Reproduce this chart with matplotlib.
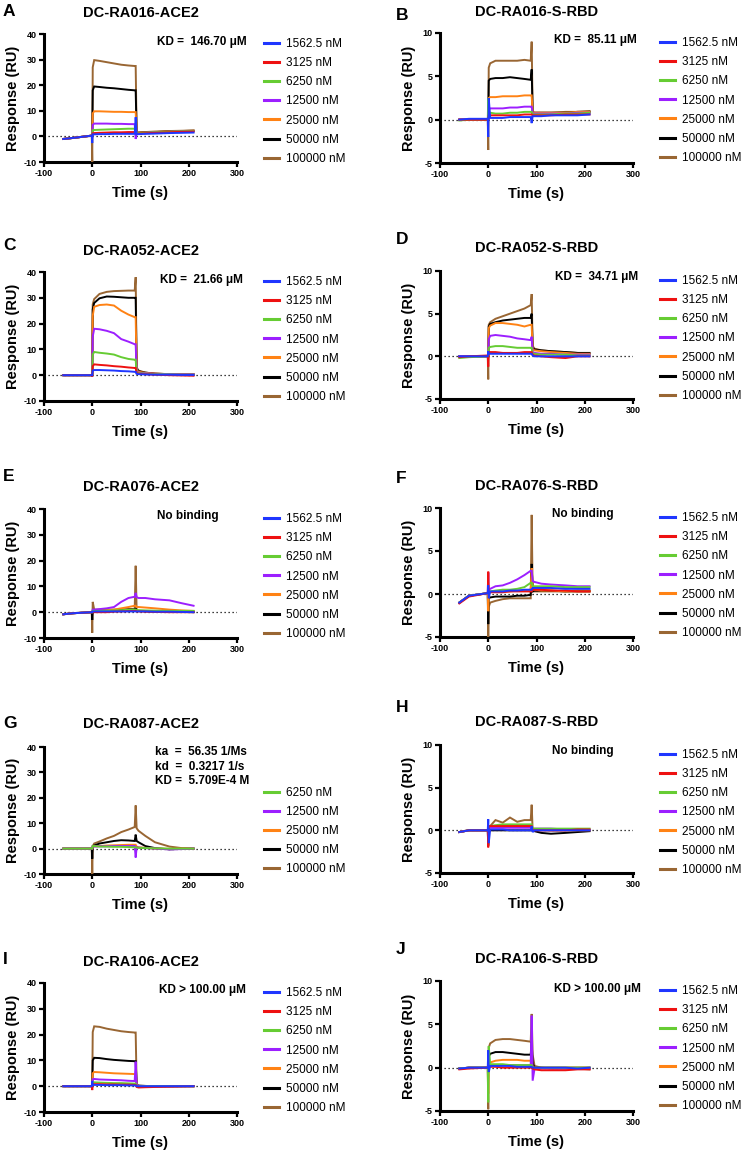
import matplotlib
matplotlib.use("Agg")
import matplotlib.pyplot as plt
from matplotlib.lines import Line2D

plt.rcParams['font.family'] = ['Liberation Sans', 'DejaVu Sans']
plt.rcParams['axes.unicode_minus'] = False

# ---------------- data ----------------
T = [-60, -40, -1, 0, 1, 4, 15, 30, 45, 60, 75, 88, 90, 92, 96, 110, 130, 160, 185, 210]

CONC7 = ['1562.5 nM', '3125 nM', '6250 nM', '12500 nM', '25000 nM', '50000 nM', '100000 nM']
CONC5 = ['6250 nM', '12500 nM', '25000 nM', '50000 nM', '100000 nM']
COL7 = ['#1f36ff', '#ee1111', '#66cc33', '#9c1fff', '#ff8214', '#000000', '#996633']
COL5 = ['#66cc33', '#9c1fff', '#ff8214', '#000000', '#996633']

A_RESP = [
    [-1.0, -0.6, 0.3, -2.6, 0.8, 0.8, 0.9, 0.9, 1.0, 1.0, 1.0, 1.0, 7.5, 0.8, 0.9, 1.0, 1.1, 1.3, 1.4, 1.5],
    [-1.0, -0.6, 0.3, 0.3, 1.2, 1.3, 1.4, 1.5, 1.6, 1.6, 1.7, 1.7, 1.7, 1.0, 1.1, 1.2, 1.4, 1.6, 1.8, 1.9],
    [-1.0, -0.6, 0.3, 0.3, 2.4, 2.5, 2.6, 2.7, 2.8, 2.9, 3.0, 3.0, 3.0, 1.2, 1.3, 1.4, 1.6, 1.8, 2.0, 2.1],
    [-1.0, -0.6, 0.3, 0.3, 4.5, 5.0, 5.0, 5.0, 4.9, 4.9, 4.8, 4.8, -1.0, 1.2, 1.3, 1.4, 1.6, 1.8, 2.0, 2.1],
    [-1.0, -0.6, 0.3, 0.3, 9.0, 9.8, 9.8, 9.7, 9.6, 9.6, 9.5, 9.5, 9.5, 1.3, 1.4, 1.5, 1.7, 1.9, 2.1, 2.2],
    [-1.0, -0.6, 0.3, 0.3, 18.0, 19.5, 19.3, 19.0, 18.8, 18.5, 18.2, 18.0, 18.0, 1.3, 1.4, 1.5, 1.7, 1.9, 2.1, 2.2],
    [-1.0, -0.6, 0.3, -10.0, 27.0, 29.8, 29.5, 29.0, 28.5, 28.0, 27.7, 27.5, 27.5, 1.5, 1.6, 1.7, 1.9, 2.1, 2.2, 2.3],
]
B_RESP = [
    [0.0, 0.1, 0.1, -2.0, 2.5, 0.2, 0.2, 0.2, 0.3, 0.3, 0.3, 0.3, -0.4, 0.4, 0.4, 0.4, 0.5, 0.5, 0.5, 0.6],
    [0.0, 0.0, 0.0, 0.0, 0.5, 0.5, 0.5, 0.5, 0.5, 0.5, 0.6, 0.6, 0.6, 0.5, 0.5, 0.5, 0.5, 0.6, 0.6, 0.6],
    [-0.1, 0.0, 0.0, 2.5, 0.8, 0.8, 0.7, 0.7, 0.8, 0.8, 0.9, 0.9, 0.9, 0.6, 0.6, 0.6, 0.6, 0.7, 0.7, 0.8],
    [0.0, 0.0, 0.0, 0.0, 1.2, 1.3, 1.3, 1.3, 1.4, 1.4, 1.5, 1.5, 1.5, 0.7, 0.7, 0.7, 0.7, 0.7, 0.8, 0.8],
    [0.0, 0.0, 0.0, 0.0, 2.5, 2.6, 2.6, 2.7, 2.7, 2.7, 2.8, 2.8, 2.8, 0.8, 0.8, 0.8, 0.8, 0.8, 0.9, 0.9],
    [0.0, 0.0, 0.0, 0.0, 4.5, 4.7, 4.8, 4.8, 4.9, 4.8, 4.7, 4.6, 5.8, 0.8, 0.8, 0.8, 0.8, 0.8, 0.9, 0.9],
    [0.0, 0.0, 0.0, -3.5, 6.0, 6.5, 6.8, 6.8, 6.8, 6.8, 6.9, 6.8, 9.0, 0.9, 0.8, 0.8, 0.8, 0.9, 0.9, 1.0],
]
C_RESP = [
    [0, 0, 0, 0, 1.8, 2.0, 2.0, 1.9, 1.8, 1.6, 1.5, 1.3, 1.3, 0.5, 0.4, 0.3, 0.2, 0.2, 0.1, 0.1],
    [0, 0, 0, -0.5, 3.5, 4.2, 4.0, 3.8, 3.5, 3.3, 3.0, 2.8, 2.8, 0.8, 0.6, 0.4, 0.2, 0.0, -0.1, -0.2],
    [0, 0, 0, 0, 8.0, 9.0, 8.7, 8.4, 8.0, 7.0, 6.3, 6.0, 6.0, 1.0, 0.8, 0.6, 0.4, 0.3, 0.2, 0.2],
    [0, 0, 0, 0, 15.0, 18.0, 17.8, 17.2, 16.3, 14.0, 13.0, 12.0, 12.0, 1.5, 1.0, 0.7, 0.5, 0.4, 0.3, 0.3],
    [0, 0, 0, 0, 23.0, 26.5, 27.2, 27.4, 27.0, 25.0, 23.5, 22.5, 22.5, 2.0, 1.3, 0.9, 0.6, 0.4, 0.3, 0.3],
    [0, 0, 0, 0, 25.5, 28.0, 29.8, 30.5, 30.4, 30.2, 30.0, 30.0, 30.0, 2.5, 1.5, 1.0, 0.6, 0.4, 0.3, 0.3],
    [0, 0, 0, 0, 27.5, 29.5, 31.5, 32.3, 32.6, 32.7, 32.8, 32.8, 38.0, 3.0, 1.8, 1.0, 0.6, 0.4, 0.3, 0.3],
]
D_RESP = [
    [0, 0, 0, 0.6, 0.3, 0.3, 0.3, 0.3, 0.3, 0.3, 0.3, 0.3, 0.3, 0.1, 0.0, 0.0, 0.0, 0.0, 0.0, 0.0],
    [-0.1, 0.0, 0.1, -1.2, 0.5, 0.5, 0.5, 0.4, 0.4, 0.4, 0.5, 0.5, 0.5, 0.2, 0.1, 0.0, -0.1, -0.2, 0.0, 0.0],
    [-0.2, -0.1, 0, 0, 1.0, 1.1, 1.2, 1.2, 1.1, 1.0, 1.0, 1.0, 1.0, 0.3, 0.3, 0.2, 0.2, 0.2, 0.1, 0.1],
    [0, 0, 0, 0, 2.0, 2.4, 2.5, 2.4, 2.3, 2.1, 2.0, 1.9, 2.3, 0.5, 0.4, 0.3, 0.3, 0.2, 0.2, 0.2],
    [0, 0, 0, 0, 3.3, 3.6, 3.9, 3.9, 3.8, 3.7, 3.5, 3.7, 3.7, 0.8, 0.7, 0.6, 0.5, 0.4, 0.3, 0.3],
    [0, 0, 0, 0, 3.5, 3.8, 4.0, 4.2, 4.3, 4.4, 4.5, 4.5, 5.0, 1.0, 0.8, 0.7, 0.6, 0.5, 0.4, 0.4],
    [0, 0, 0, -2.7, 3.7, 4.0, 4.4, 4.7, 5.0, 5.3, 5.6, 6.0, 7.3, 1.2, 0.9, 0.7, 0.6, 0.5, 0.4, 0.3],
]
E_RESP = [
    [-0.8, -0.4, 0.0, 0.0, 0.3, 0.3, 0.3, 0.3, 0.3, 0.3, 0.3, 0.3, 0.3, 0.3, 0.3, 0.3, 0.2, 0.2, 0.1, 0.0],
    [-0.8, -0.4, 0.0, 0.0, 0.0, 0.0, 0.0, 0.0, 0.2, 0.3, 0.4, 0.5, 0.5, 0.3, 0.3, 0.2, 0.1, 0.0, 0.0, 0.0],
    [-0.8, -0.4, 0.0, 0.0, 0.5, 0.5, 0.5, 0.6, 0.7, 0.8, 0.9, 1.0, 1.0, 0.8, 0.8, 0.7, 0.6, 0.5, 0.5, 0.5],
    [-0.8, -0.4, 0.0, 0.0, 1.0, 1.0, 1.2, 1.5, 2.0, 4.0, 5.5, 6.0, 7.5, 5.8, 5.5, 5.5, 5.0, 4.6, 3.5, 2.5],
    [-0.8, -0.4, 0.0, 0.0, 0.5, 0.5, 0.6, 0.8, 1.0, 1.5, 2.0, 2.5, 2.5, 2.0, 2.0, 1.8, 1.5, 1.0, 0.7, 0.5],
    [-0.8, -0.4, 0.0, -3.0, 0.5, 0.5, 0.6, 0.7, 0.8, 0.9, 1.0, 1.0, 1.5, 0.5, 0.5, 0.4, 0.3, 0.3, 0.2, 0.2],
    [-0.8, -0.4, 0.0, -8.0, 4.0, 1.0, 1.0, 1.0, 1.0, 1.0, 1.2, 1.3, 18.0, 0.5, 0.5, 0.4, 0.3, 0.2, 0.1, 0.0],
]
F_RESP = [
    [-1.0, -0.2, 0.1, 1.0, -0.5, 0.3, 0.3, 0.3, 0.4, 0.4, 0.5, 0.5, 0.5, 0.7, 0.7, 0.7, 0.7, 0.6, 0.6, 0.6],
    [-1.1, -0.3, 0.1, 2.6, 0.2, 0.2, 0.2, 0.2, 0.3, 0.3, 0.3, 0.3, 0.3, 0.5, 0.5, 0.5, 0.4, 0.4, 0.3, 0.3],
    [-1.0, -0.2, 0.1, 0.1, 0.3, 0.3, 0.4, 0.5, 0.5, 0.6, 0.8, 1.3, 1.3, 0.9, 0.9, 0.9, 0.9, 0.8, 0.8, 0.8],
    [-1.0, -0.2, 0.1, 2.5, 0.5, 0.6, 0.9, 1.0, 1.3, 1.7, 2.2, 2.7, 2.7, 1.5, 1.4, 1.2, 1.1, 1.0, 0.9, 0.9],
    [-1.0, -0.2, 0.1, -2.0, 0.2, 0.2, 0.3, 0.3, 0.3, 0.4, 0.4, 0.5, 3.0, 0.5, 0.5, 0.4, 0.4, 0.3, 0.3, 0.3],
    [-1.0, -0.2, 0.1, -3.5, -0.5, -0.4, -0.3, -0.3, -0.3, -0.2, -0.2, -0.1, 3.5, 0.3, 0.4, 0.4, 0.4, 0.3, 0.3, 0.3],
    [-1.0, -0.2, 0.1, -5.0, -1.5, -1.0, -0.8, -0.6, -0.5, -0.5, -0.5, -0.5, 9.2, 0.3, 0.3, 0.3, 0.3, 0.3, 0.4, 0.4],
]
G_RESP = [
    [0, 0, 0, 0, 1.0, 1.0, 0.8, 0.8, 0.7, 0.7, 0.6, 0.5, 0.5, 0.4, 0.3, 0.2, 0.1, 0.0, 0.0, 0.0],
    [0, 0, 0, 0, 0.8, 0.8, 0.9, 0.9, 1.0, 1.0, 1.0, 1.0, -3.5, 0.5, 0.4, 0.2, 0.0, -0.3, -0.2, 0.0],
    [0, 0, 0, 0, 0.8, 0.9, 1.0, 1.2, 1.3, 1.4, 1.5, 1.5, 1.5, 0.8, 0.5, 0.3, 0.0, -0.1, 0.0, 0.0],
    [0, 0, 0, -4.0, 1.0, 1.2, 2.0, 2.5, 3.0, 3.3, 3.2, 3.0, 5.5, 3.0, 2.5, 1.0, 0.2, -0.3, -0.1, 0.0],
    [0, 0, 0, -10.0, 1.0, 2.0, 2.8, 4.0, 5.0, 6.5, 7.5, 8.5, 17.0, 8.0, 7.0, 5.0, 2.5, 0.8, 0.2, 0.0],
]
H_RESP = [
    [-0.2, 0.0, 0.0, 1.3, -1.5, 0.1, 0.1, 0.1, 0.0, 0.0, 0.0, 0.0, 0.5, -0.2, 0.0, 0.0, 0.0, 0.0, 0.0, 0.0],
    [-0.2, 0.0, 0.0, -2.0, 0.5, 0.5, 0.5, 0.5, 0.5, 0.5, 0.5, 0.5, 0.5, 0.0, 0.0, 0.0, 0.0, 0.0, 0.1, 0.1],
    [-0.2, 0.0, 0.0, 0.0, 0.4, 0.5, 0.6, 0.7, 0.7, 0.7, 0.7, 0.7, 0.7, 0.2, 0.2, 0.2, 0.2, 0.2, 0.2, 0.2],
    [-0.2, 0.0, 0.0, 0.0, 0.3, 0.3, 0.3, 0.3, 0.3, 0.3, 0.3, 0.3, 0.3, 0.2, 0.2, 0.2, 0.2, 0.1, 0.1, 0.1],
    [-0.2, 0.0, 0.0, 0.0, 0.3, 0.4, 0.4, 0.5, 0.5, 0.5, 0.5, 0.5, 0.5, 0.1, 0.1, 0.1, 0.0, 0.0, 0.0, 0.0],
    [-0.2, 0.0, 0.0, -1.8, 0.0, 0.0, 0.0, 0.0, 0.0, 0.0, 0.0, 0.0, 0.0, 0.0, -0.1, -0.3, -0.4, -0.3, -0.2, -0.1],
    [-0.2, 0.0, 0.0, 0.0, 0.3, 0.5, 1.2, 0.9, 1.5, 1.0, 1.2, 1.2, 3.0, 0.0, 0.0, 0.0, 0.0, 0.0, 0.0, 0.0],
]
I_RESP = [
    [0, 0, 0, 2.0, 0.5, 0.5, 0.5, 0.4, 0.4, 0.4, 0.3, 0.3, 0.3, 0.0, 0.0, 0.0, 0.0, 0.0, 0.0, 0.0],
    [0, 0, 0, -1.5, 0.8, 0.8, 0.8, 0.7, 0.7, 0.6, 0.6, 0.5, 0.5, -0.3, -0.5, -0.4, -0.3, -0.2, -0.1, 0.0],
    [0, 0, 0, 0, 1.5, 1.5, 1.4, 1.3, 1.2, 1.2, 1.1, 1.0, 1.0, 0.0, 0.0, 0.0, 0.0, 0.0, 0.0, 0.0],
    [0, 0, 0, 0, 2.7, 2.8, 2.6, 2.5, 2.4, 2.3, 2.1, 2.0, 9.5, 0.2, 0.1, 0.0, 0.0, 0.0, 0.0, 0.0],
    [0, 0, 0, 0, 5.0, 5.5, 5.4, 5.2, 5.0, 4.9, 4.8, 4.7, 4.7, 0.3, 0.1, 0.0, 0.0, 0.0, 0.0, 0.0],
    [0, 0, 0, 0, 10.0, 11.0, 10.9, 10.5, 10.2, 10.0, 9.8, 9.7, 9.7, 0.5, 0.2, 0.1, 0.0, 0.0, 0.0, 0.0],
    [0, 0, 0, 0, 21.0, 23.2, 23.0, 22.3, 21.8, 21.3, 21.0, 20.8, 20.8, 0.5, 0.2, 0.1, 0.0, 0.0, 0.0, 0.0],
]
J_RESP = [
    [-0.1, 0.0, 0.0, 2.0, -0.5, 0.2, 0.2, 0.2, 0.2, 0.1, 0.1, 0.1, 0.1, 0.0, 0.0, 0.0, 0.0, 0.0, -0.1, 0.0],
    [-0.2, -0.1, 0.0, 0.0, 0.1, 0.1, 0.1, 0.0, 0.0, 0.0, 0.0, 0.0, 0.0, -0.1, -0.2, -0.3, -0.3, -0.3, -0.2, -0.2],
    [-0.1, 0.0, 0.0, -4.0, 2.5, 0.4, 0.4, 0.4, 0.3, 0.3, 0.3, 0.3, 0.3, 0.0, 0.0, 0.0, 0.0, 0.0, 0.0, 0.0],
    [-0.1, 0.0, 0.0, 0.0, 0.3, 0.3, 0.3, 0.3, 0.3, 0.3, 0.3, 0.3, 6.0, -1.5, -0.1, -0.1, -0.1, -0.1, -0.1, -0.1],
    [-0.1, 0.0, 0.0, -3.0, 0.5, 0.6, 0.8, 0.9, 0.9, 0.9, 0.8, 0.8, 0.8, 0.0, 0.0, 0.0, 0.0, 0.0, 0.0, 0.0],
    [-0.1, 0.0, 0.0, 0.0, 1.3, 1.6, 1.8, 1.8, 1.7, 1.6, 1.5, 1.5, 3.0, 0.5, 0.0, 0.0, 0.0, 0.0, 0.0, 0.0],
    [-0.1, 0.0, 0.0, -4.8, 2.3, 2.8, 3.2, 3.3, 3.3, 3.2, 3.1, 3.0, 6.2, 1.5, 0.2, 0.0, -0.1, -0.1, -0.1, -0.2],
]

TITLES = ['DC-RA016-ACE2', 'DC-RA016-S-RBD', 'DC-RA052-ACE2', 'DC-RA052-S-RBD',
          'DC-RA076-ACE2', 'DC-RA076-S-RBD', 'DC-RA087-ACE2', 'DC-RA087-S-RBD',
          'DC-RA106-ACE2', 'DC-RA106-S-RBD']
LETTERS = ['A', 'B', 'C', 'D', 'E', 'F', 'G', 'H', 'I', 'J']
NOTES = ['KD =  146.70 \u03bcM', 'KD =  85.11 \u03bcM', 'KD =  21.66 \u03bcM', 'KD =  34.71 \u03bcM',
         'No binding', 'No binding', None, 'No binding',
         'KD > 100.00 \u03bcM', 'KD > 100.00 \u03bcM']
G_NOTES = ['ka  =  56.35 1/Ms', 'kd  =  0.3217 1/s', 'KD =  5.709E-4 M']
XTICKS = [-100, 0, 100, 200, 300]
YTICKS_ACE2 = [-10, 0, 10, 20, 30, 40]
YTICKS_RBD = [-5, 0, 5, 10]

RESPS = [A_RESP, B_RESP, C_RESP, D_RESP, E_RESP, F_RESP, G_RESP, H_RESP, I_RESP, J_RESP]

# ---------------- layout (pixels) ----------------
W, H = 747, 1154
fig = plt.figure(figsize=(W / 100, H / 100), dpi=100)

AX_TOP = [34, 33, 272, 271, 509, 508, 747, 745, 983, 981]
AX_BOT = [162, 163, 401, 399, 638, 637, 874, 873, 1112, 1111]
AX_LEFT = [44, 440]
AX_W = 193
LETTER_Y = [12, 15, 245, 240, 476, 478, 723, 708, 960, 950]
LETTER_X = [3, 396]
TITLE_Y = [13, 12, 251, 248, 487, 486, 724, 722, 962, 959]
NOTE_POS = [(1.05, 0.94, 'right'), (1.02, 0.945, 'right'), (1.03, 0.94, 'right'), (1.026, 0.95, 'right'),
            (0.745, 0.945, 'center'), (0.74, 0.953, 'center'), None, (0.74, 0.953, 'center'),
            (1.047, 0.946, 'right'), (1.04, 0.94, 'right')]

for k in range(10):
    col = k % 2
    x0 = AX_LEFT[col]
    top, bot = AX_TOP[k], AX_BOT[k]
    ax = fig.add_axes([x0 / W, 1 - bot / H, AX_W / W, (bot - top) / H])
    resp = RESPS[k]
    if k == 6:
        labels, colors = CONC5, COL5
    else:
        labels, colors = CONC7, COL7
    n = len(resp)
    ax.axhline(0, color='black', lw=0.9, ls=(0, (1, 2.2)), zorder=1)
    for i in reversed(range(n)):
        ax.plot(T, resp[i], color=colors[i], lw=1.4, zorder=2 + (n - i),
                solid_joinstyle='miter')
    ax.set_xlim(-100, 300)
    if col == 0:
        ax.set_ylim(-10, 40)
        ax.set_yticks(YTICKS_ACE2)
    else:
        ax.set_ylim(-5, 10)
        ax.set_yticks(YTICKS_RBD)
    ax.set_xticks(XTICKS)
    for s in ['top', 'right']:
        ax.spines[s].set_visible(False)
    for s in ['left', 'bottom']:
        ax.spines[s].set_linewidth(2.2)
    ax.tick_params(direction='out', length=3.8, width=1.6, labelsize=6.5, pad=1.5)
    for lab in ax.get_xticklabels() + ax.get_yticklabels():
        lab.set_fontweight('bold')
    ax.set_ylabel('Response (RU)', fontsize=10.5, fontweight='bold', va='center')
    ax.yaxis.set_label_coords(-0.16, 0.5)
    ax.set_xlabel('Time (s)', fontsize=10.5, fontweight='bold', va='center')
    ax.xaxis.set_label_coords(0.5, -31 / (bot - top))

    handles = [Line2D([], [], color=c, lw=2.2) for c in colors]
    if k == 6:
        ax.legend(handles, labels, loc='lower left', bbox_to_anchor=(1.14, -0.01),
                  frameon=False, fontsize=8.5, handlelength=1.25, handletextpad=0.6,
                  labelspacing=0.6, borderpad=0, borderaxespad=0)
    else:
        ax.legend(handles, labels, loc='upper left', bbox_to_anchor=(1.14, 0.967),
                  frameon=False, fontsize=8.5, handlelength=1.25, handletextpad=0.6,
                  labelspacing=0.6, borderpad=0, borderaxespad=0)

    if NOTES[k] is not None:
        nx, ny, ha = NOTE_POS[k]
        ax.text(nx, ny, NOTES[k], transform=ax.transAxes, ha=ha, va='center',
                fontsize=8.5, fontweight='bold')
    else:
        for j, line in enumerate(G_NOTES):
            ax.text(0.575, 0.96 - j * 14.5 / (bot - top), line, transform=ax.transAxes,
                    ha='left', va='center', fontsize=8.5, fontweight='bold')

    fig.text((x0 + AX_W / 2) / W, 1 - TITLE_Y[k] / H, TITLES[k], ha='center', va='center',
             fontsize=10.5, fontweight='bold')
    fig.text(LETTER_X[col] / W, 1 - LETTER_Y[k] / H, LETTERS[k], ha='left', va='center',
             fontsize=12.5, fontweight='bold')

fig.savefig('out.png', dpi=100)
